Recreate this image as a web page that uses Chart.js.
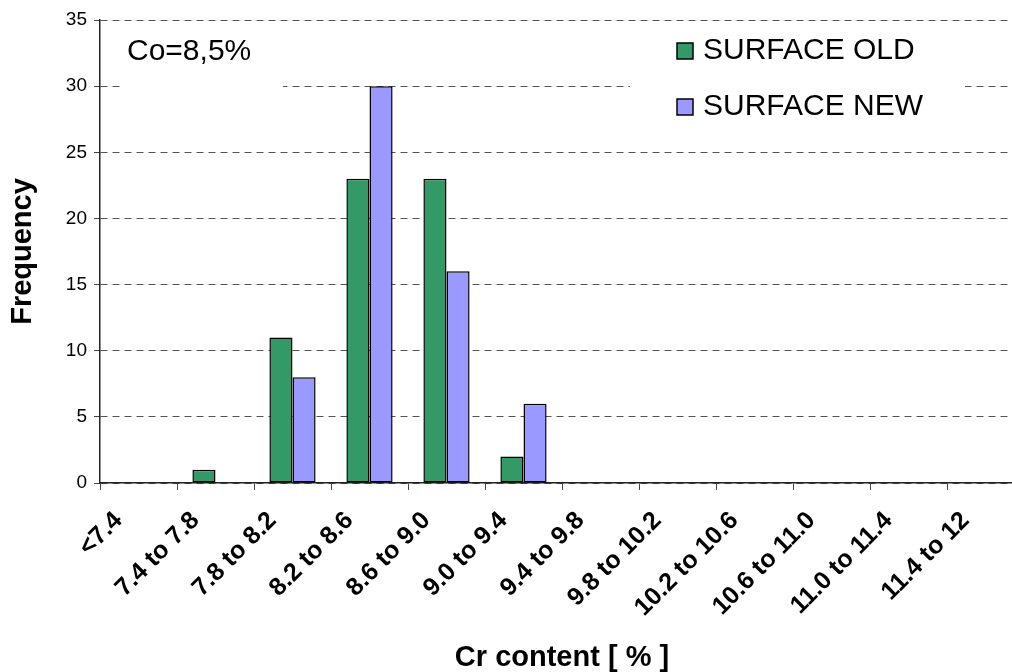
<!DOCTYPE html>
<html>
<head>
<meta charset="utf-8">
<title>Cr content histogram</title>
<script src="https://cdn.jsdelivr.net/npm/chart.js@4.4.1/dist/chart.umd.min.js"></script>
<style>
  html, body { margin: 0; padding: 0; background: #fff; overflow: hidden; }
  #wrap { width: 1040px; height: 672px; position: relative; }
</style>
</head>
<body>
<div id="wrap"><canvas id="crChart" width="1040" height="672"></canvas></div>
<script>
// Cr content classes and counts per surface
const crClasses = ['<7.4', '7.4 to 7.8', '7.8 to 8.2', '8.2 to 8.6', '8.6 to 9.0', '9.0 to 9.4',
  '9.4 to 9.8', '9.8 to 10.2', '10.2 to 10.6', '10.6 to 11.0', '11.0 to 11.4', '11.4 to 12'];
const surfaceOld = [0, 1, 11, 23, 23, 2, 0, 0, 0, 0, 0, 0];
const surfaceNew = [0, 0, 8, 30, 16, 6, 0, 0, 0, 0, 0, 0];
const seriesNames = ['SURFACE OLD', 'SURFACE NEW'];
const seriesColors = ['#339966', '#9999FF'];
const noteText = 'Co=8,5%';

const FONT = "'Liberation Sans', Arial, sans-serif";

// empty classes get no outline
const barBorder = c => (c.raw === 0 ? 0 : 1.5);

// white boxes for the note and the legend, drawn over the gridlines
const boxesPlugin = {
  id: 'boxes',
  beforeDatasetsDraw(chart) {
    const ctx = chart.ctx;
    ctx.save();
    ctx.fillStyle = '#fff';
    ctx.fillRect(120, 24, 163, 70);
    ctx.fillRect(630, 24, 335, 124);
    ctx.restore();
  },
  afterDatasetsDraw(chart) {
    const ctx = chart.ctx;
    ctx.save();
    ctx.fillStyle = '#000';
    ctx.textBaseline = 'alphabetic';
    ctx.font = '30px ' + FONT;
    ctx.fillText(noteText, 127, 60);

    chart.data.datasets.forEach((ds, i) => {
      const y = 43 + i * 56;
      ctx.fillStyle = ds.backgroundColor;
      ctx.fillRect(677, y, 16, 16);
      ctx.strokeStyle = '#000';
      ctx.lineWidth = 1.5;
      ctx.strokeRect(677, y, 16, 16);
      ctx.fillStyle = '#000';
      ctx.font = '30px ' + FONT;
      ctx.fillText(ds.label, 703, y + 16);
    });
    ctx.restore();
  }
};

const ctx = document.getElementById('crChart').getContext('2d');
const crChart = new Chart(ctx, {
  type: 'bar',
  data: {
    labels: crClasses,
    datasets: [
      { label: seriesNames[0], data: surfaceOld, backgroundColor: seriesColors[0],
        borderColor: '#000', borderWidth: barBorder, borderSkipped: false },
      { label: seriesNames[1], data: surfaceNew, backgroundColor: seriesColors[1],
        borderColor: '#000', borderWidth: barBorder, borderSkipped: false }
    ]
  },
  options: {
    responsive: false,
    animation: false,
    devicePixelRatio: 1,
    layout: { padding: { top: 20, right: 16, left: 0, bottom: 0 } },
    datasets: { bar: { categoryPercentage: 0.6, barPercentage: 1.0 } },
    plugins: {
      legend: { display: false },
      tooltip: { enabled: false }
    },
    scales: {
      x: {
        afterFit: s => { s.height = 189; },
        grid: { drawOnChartArea: false, tickLength: 7, tickColor: '#444', offset: true },
        border: { color: '#222', width: 1.5 },
        ticks: {
          autoSkip: false, minRotation: 45, maxRotation: 45, padding: 16, labelOffset: -20,
          color: '#000', font: { family: FONT, size: 25, weight: 'bold' }
        },
        title: {
          display: true, text: 'Cr content [ % ]', color: '#000',
          font: { family: FONT, size: 29, weight: 'bold', lineHeight: 1 },
          padding: { top: 0, bottom: 0 }
        }
      },
      y: {
        min: 0, max: 35,
        afterFit: s => { s.width = 100; },
        grid: { color: '#555', lineWidth: 1, tickLength: 6, tickColor: '#444', tickBorderDash: [] },
        border: { color: '#222', width: 1.5, dash: [7, 5] },
        ticks: { stepSize: 5, padding: 7, color: '#000', font: { family: FONT, size: 19 } },
        title: {
          display: true, text: 'Frequency', color: '#000',
          font: { family: FONT, size: 29, weight: 'bold', lineHeight: 1 },
          padding: { top: 8, bottom: 0 }
        }
      }
    }
  },
  plugins: [boxesPlugin]
});
</script>
</body>
</html>
